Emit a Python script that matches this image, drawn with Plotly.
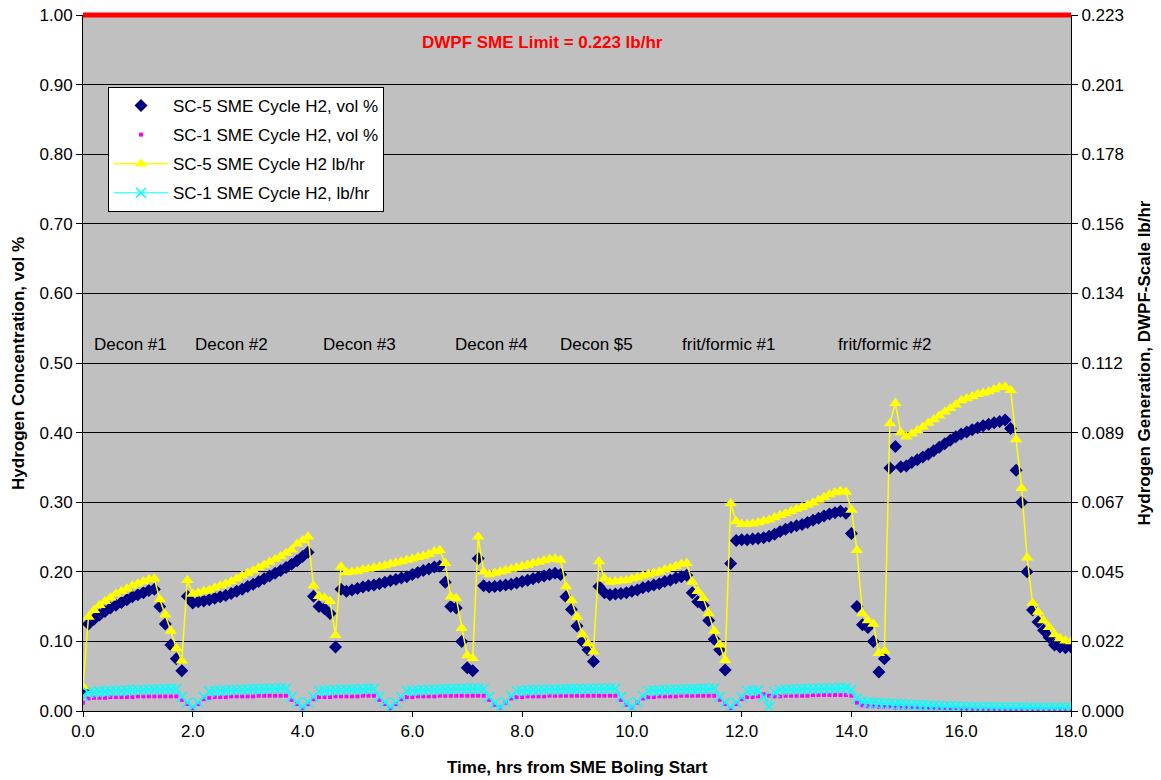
import plotly.graph_objects as go

# ---------------- data ----------------
hours = [
    0.0, 0.1, 0.2, 0.3, 0.4, 0.5, 0.6, 0.7, 0.8, 0.9,
    1.0, 1.1, 1.2, 1.3, 1.4, 1.5, 1.6, 1.7, 1.8, 1.9,
    2.0, 2.1, 2.2, 2.3, 2.4, 2.5, 2.6, 2.7, 2.8, 2.9,
    3.0, 3.1, 3.2, 3.3, 3.4, 3.5, 3.6, 3.7, 3.8, 3.9,
    4.0, 4.1, 4.2, 4.3, 4.4, 4.5, 4.6, 4.7, 4.8, 4.9,
    5.0, 5.1, 5.2, 5.3, 5.4, 5.5, 5.6, 5.7, 5.8, 5.9,
    6.0, 6.1, 6.2, 6.3, 6.4, 6.5, 6.6, 6.7, 6.8, 6.9,
    7.0, 7.1, 7.2, 7.3, 7.4, 7.5, 7.6, 7.7, 7.8, 7.9,
    8.0, 8.1, 8.2, 8.3, 8.4, 8.5, 8.6, 8.7, 8.8, 8.9,
    9.0, 9.1, 9.2, 9.3, 9.4, 9.5, 9.6, 9.7, 9.8, 9.9,
    10.0, 10.1, 10.2, 10.3, 10.4, 10.5, 10.6, 10.7, 10.8, 10.9,
    11.0, 11.1, 11.2, 11.3, 11.4, 11.5, 11.6, 11.7, 11.8, 11.9,
    12.0, 12.1, 12.2, 12.3, 12.4, 12.5, 12.6, 12.7, 12.8, 12.9,
    13.0, 13.1, 13.2, 13.3, 13.4, 13.5, 13.6, 13.7, 13.8, 13.9,
    14.0, 14.1, 14.2, 14.3, 14.4, 14.5, 14.6, 14.7, 14.8, 14.9,
    15.0, 15.1, 15.2, 15.3, 15.4, 15.5, 15.6, 15.7, 15.8, 15.9,
    16.0, 16.1, 16.2, 16.3, 16.4, 16.5, 16.6, 16.7, 16.8, 16.9,
    17.0, 17.1, 17.2, 17.3, 17.4, 17.5, 17.6, 17.7, 17.8, 17.9,
    18.0,
]

# SC-5 SME cycle H2, vol %  (left axis)
sc5_vol = [
    0.030, 0.125, 0.132, 0.138, 0.143, 0.148, 0.152, 0.156, 0.160, 0.164,
    0.167, 0.170, 0.173, 0.175, 0.150, 0.125, 0.095, 0.075, 0.058, 0.165,
    0.155, 0.157, 0.158, 0.160, 0.162, 0.164, 0.166, 0.169, 0.172, 0.175,
    0.179, 0.182, 0.186, 0.190, 0.194, 0.198, 0.202, 0.206, 0.211, 0.216,
    0.222, 0.228, 0.165, 0.150, 0.147, 0.140, 0.092, 0.175, 0.172, 0.174,
    0.176, 0.178, 0.180, 0.181, 0.183, 0.185, 0.187, 0.189, 0.191, 0.193,
    0.196, 0.199, 0.202, 0.204, 0.207, 0.208, 0.185, 0.150, 0.148, 0.100,
    0.062, 0.058, 0.219, 0.180, 0.178, 0.179, 0.180, 0.181, 0.182, 0.184,
    0.186, 0.188, 0.190, 0.192, 0.194, 0.196, 0.198, 0.196, 0.164, 0.146,
    0.122, 0.100, 0.088, 0.071, 0.179, 0.170, 0.167, 0.168, 0.169, 0.170,
    0.172, 0.174, 0.177, 0.179, 0.181, 0.183, 0.186, 0.188, 0.191, 0.193,
    0.195, 0.170, 0.157, 0.152, 0.130, 0.103, 0.088, 0.059, 0.212, 0.245,
    0.246, 0.246, 0.247, 0.248, 0.249, 0.251, 0.254, 0.258, 0.261, 0.264,
    0.266, 0.268, 0.271, 0.274, 0.277, 0.280, 0.283, 0.285, 0.287, 0.284,
    0.255, 0.150, 0.124, 0.120, 0.100, 0.056, 0.075, 0.349, 0.380, 0.351,
    0.352, 0.357, 0.361, 0.365, 0.369, 0.374, 0.379, 0.384, 0.389, 0.394,
    0.398, 0.401, 0.404, 0.407, 0.410, 0.412, 0.414, 0.416, 0.418, 0.406,
    0.346, 0.300, 0.200, 0.145, 0.128, 0.116, 0.106, 0.095, 0.092, 0.091,
    0.092,
]

# SC-1 SME cycle H2, vol %  (left axis)
sc1_vol = [
    0.012, 0.018, 0.019, 0.019, 0.019, 0.020, 0.020, 0.020, 0.020, 0.020,
    0.021, 0.021, 0.021, 0.021, 0.021, 0.021, 0.021, 0.021, 0.016, 0.010,
    0.004, 0.010, 0.017, 0.019, 0.020, 0.020, 0.020, 0.021, 0.021, 0.021,
    0.021, 0.021, 0.022, 0.022, 0.022, 0.022, 0.022, 0.022, 0.016, 0.010,
    0.004, 0.010, 0.017, 0.020, 0.020, 0.020, 0.021, 0.021, 0.021, 0.021,
    0.021, 0.022, 0.022, 0.022, 0.016, 0.010, 0.004, 0.010, 0.017, 0.020,
    0.020, 0.021, 0.021, 0.021, 0.021, 0.022, 0.022, 0.022, 0.022, 0.022,
    0.022, 0.022, 0.022, 0.022, 0.016, 0.009, 0.005, 0.012, 0.018, 0.020,
    0.020, 0.021, 0.021, 0.021, 0.021, 0.022, 0.022, 0.022, 0.022, 0.022,
    0.022, 0.022, 0.022, 0.022, 0.022, 0.022, 0.022, 0.022, 0.016, 0.009,
    0.005, 0.012, 0.018, 0.020, 0.020, 0.021, 0.021, 0.021, 0.021, 0.022,
    0.022, 0.022, 0.022, 0.022, 0.022, 0.022, 0.016, 0.010, 0.004, 0.010,
    0.017, 0.020, 0.020, 0.021, 0.024, 0.022, 0.021, 0.021, 0.022, 0.022,
    0.022, 0.022, 0.022, 0.023, 0.023, 0.023, 0.023, 0.023, 0.023, 0.023,
    0.022, 0.012, 0.008, 0.007, 0.007, 0.006, 0.006, 0.006, 0.005, 0.005,
    0.005, 0.005, 0.005, 0.004, 0.004, 0.004, 0.004, 0.004, 0.004, 0.004,
    0.003, 0.003, 0.003, 0.003, 0.003, 0.003, 0.003, 0.003, 0.003, 0.003,
    0.003, 0.003, 0.003, 0.003, 0.003, 0.003, 0.003, 0.003, 0.003, 0.003,
    0.003,
]

# SC-5 SME cycle H2, lb/hr  (right axis)
sc5_lbhr = [
    0.0078, 0.0301, 0.0323, 0.0339, 0.0352, 0.0363, 0.0375, 0.0384, 0.0392, 0.0401,
    0.0408, 0.0415, 0.0421, 0.0424, 0.0357, 0.0308, 0.0256, 0.0201, 0.0161, 0.0419,
    0.0375, 0.0379, 0.0384, 0.0388, 0.0395, 0.0401, 0.0408, 0.0415, 0.0424, 0.0433,
    0.0442, 0.0450, 0.0459, 0.0468, 0.0477, 0.0486, 0.0495, 0.0506, 0.0517, 0.0535,
    0.0546, 0.0558, 0.0401, 0.0368, 0.0363, 0.0352, 0.0243, 0.0462, 0.0444, 0.0446,
    0.0448, 0.0453, 0.0455, 0.0459, 0.0462, 0.0466, 0.0471, 0.0475, 0.0479, 0.0484,
    0.0488, 0.0493, 0.0497, 0.0502, 0.0511, 0.0515, 0.0473, 0.0366, 0.0361, 0.0265,
    0.0178, 0.0169, 0.0558, 0.0446, 0.0437, 0.0442, 0.0446, 0.0450, 0.0455, 0.0459,
    0.0464, 0.0468, 0.0473, 0.0477, 0.0482, 0.0486, 0.0488, 0.0484, 0.0399, 0.0355,
    0.0301, 0.0245, 0.0216, 0.0190, 0.0479, 0.0424, 0.0413, 0.0415, 0.0417, 0.0419,
    0.0424, 0.0428, 0.0433, 0.0437, 0.0442, 0.0446, 0.0453, 0.0457, 0.0464, 0.0471,
    0.0473, 0.0413, 0.0384, 0.0361, 0.0312, 0.0256, 0.0212, 0.0163, 0.0665, 0.0607,
    0.0598, 0.0598, 0.0600, 0.0604, 0.0609, 0.0613, 0.0620, 0.0627, 0.0633, 0.0640,
    0.0647, 0.0653, 0.0660, 0.0667, 0.0676, 0.0685, 0.0694, 0.0700, 0.0705, 0.0702,
    0.0644, 0.0515, 0.0312, 0.0290, 0.0279, 0.0185, 0.0192, 0.0921, 0.0986, 0.0892,
    0.0879, 0.0888, 0.0899, 0.0910, 0.0923, 0.0934, 0.0946, 0.0959, 0.0970, 0.0981,
    0.0995, 0.1001, 0.1008, 0.1015, 0.1019, 0.1024, 0.1030, 0.1037, 0.1039, 0.1028,
    0.0870, 0.0714, 0.0491, 0.0346, 0.0317, 0.0290, 0.0268, 0.0245, 0.0232, 0.0225,
    0.0223,
]

# SC-1 SME cycle H2, lb/hr  (right axis)
sc1_lbhr = [
    0.0049, 0.0058, 0.0060, 0.0062, 0.0062, 0.0064, 0.0065, 0.0065, 0.0066, 0.0067,
    0.0067, 0.0068, 0.0068, 0.0069, 0.0069, 0.0070, 0.0070, 0.0071, 0.0045, 0.0027,
    0.0013, 0.0027, 0.0045, 0.0062, 0.0064, 0.0065, 0.0066, 0.0067, 0.0068, 0.0068,
    0.0069, 0.0070, 0.0070, 0.0071, 0.0072, 0.0072, 0.0073, 0.0073, 0.0045, 0.0027,
    0.0013, 0.0027, 0.0045, 0.0064, 0.0065, 0.0066, 0.0067, 0.0068, 0.0068, 0.0069,
    0.0069, 0.0070, 0.0071, 0.0071, 0.0045, 0.0027, 0.0013, 0.0027, 0.0045, 0.0064,
    0.0065, 0.0066, 0.0067, 0.0068, 0.0068, 0.0069, 0.0070, 0.0070, 0.0071, 0.0071,
    0.0072, 0.0072, 0.0072, 0.0071, 0.0045, 0.0025, 0.0013, 0.0029, 0.0048, 0.0064,
    0.0065, 0.0066, 0.0067, 0.0067, 0.0068, 0.0068, 0.0069, 0.0069, 0.0070, 0.0070,
    0.0070, 0.0071, 0.0071, 0.0071, 0.0071, 0.0072, 0.0072, 0.0072, 0.0045, 0.0025,
    0.0013, 0.0029, 0.0048, 0.0064, 0.0065, 0.0066, 0.0067, 0.0068, 0.0068, 0.0069,
    0.0069, 0.0070, 0.0070, 0.0071, 0.0071, 0.0072, 0.0045, 0.0027, 0.0013, 0.0027,
    0.0045, 0.0064, 0.0065, 0.0066, 0.0045, 0.0013, 0.0060, 0.0067, 0.0068, 0.0069,
    0.0069, 0.0070, 0.0071, 0.0071, 0.0072, 0.0072, 0.0073, 0.0073, 0.0074, 0.0074,
    0.0068, 0.0040, 0.0030, 0.0028, 0.0026, 0.0025, 0.0024, 0.0023, 0.0022, 0.0022,
    0.0021, 0.0020, 0.0019, 0.0018, 0.0018, 0.0017, 0.0016, 0.0015, 0.0015, 0.0014,
    0.0013, 0.0013, 0.0013, 0.0012, 0.0012, 0.0012, 0.0012, 0.0011, 0.0011, 0.0011,
    0.0011, 0.0011, 0.0010, 0.0010, 0.0010, 0.0010, 0.0010, 0.0010, 0.0010, 0.0010,
    0.0010,
]

series_names = [
    "SC-5 SME Cycle H2, vol %",
    "SC-1 SME Cycle H2, vol %",
    "SC-5 SME Cycle H2 lb/hr",
    "SC-1 SME Cycle H2, lb/hr",
]

vol_ticks = [0.0, 0.1, 0.2, 0.3, 0.4, 0.5, 0.6, 0.7, 0.8, 0.9, 1.0]
lbhr_ticks = [0.0, 0.0223, 0.0446, 0.0669, 0.0892, 0.1115, 0.1338, 0.1561, 0.1784, 0.2007, 0.223]
lbhr_tick_labels = ["0.000", "0.022", "0.045", "0.067", "0.089", "0.112",
                    "0.134", "0.156", "0.178", "0.201", "0.223"]
time_ticks = [0, 2, 4, 6, 8, 10, 12, 14, 16, 18]

limit_text = "DWPF SME Limit = 0.223 lb/hr"
phase_labels = ["Decon #1", "Decon #2", "Decon #3", "Decon #4", "Decon $5",
                "frit/formic #1", "frit/formic #2"]
phase_label_hours = [0.87, 2.70, 5.03, 7.45, 9.35, 11.77, 14.61]

x_title = "Time, hrs from SME Boling Start"
y_title = "Hydrogen Concentration, vol %"
y2_title = "Hydrogen Generation, DWPF-Scale lb/hr"

# ---------------- figure ----------------
FONT = "Liberation Sans, Arial, sans-serif"
fig = go.Figure()

fig.add_trace(go.Scatter(
    x=hours, y=sc5_vol, name=series_names[0], mode="markers",
    marker=dict(symbol="diamond", size=10, color="#000080"),
    legendgroup="a", yaxis="y"))
fig.add_trace(go.Scatter(
    x=hours, y=sc1_vol, name=series_names[1], mode="markers",
    marker=dict(symbol="square", size=4, color="#FF00FF"),
    legendgroup="b", yaxis="y"))
fig.add_trace(go.Scatter(
    x=hours, y=sc5_lbhr, name=series_names[2], mode="lines+markers",
    line=dict(color="#FFFF00", width=1.5),
    marker=dict(symbol="triangle-up", size=11, color="#FFFF00"),
    legendgroup="c", yaxis="y2"))
fig.add_trace(go.Scatter(
    x=hours, y=sc1_lbhr, name=series_names[3], mode="lines+markers",
    line=dict(color="#00FFFF", width=1),
    marker=dict(symbol="x-thin", size=10, color="#00FFFF",
                line=dict(color="#00FFFF", width=1.5)),
    legendgroup="d", yaxis="y2"))

annotations = [
    dict(x=8.38, y=0.96, xref="x", yref="y", text="<b>" + limit_text + "</b>",
         showarrow=False, font=dict(family=FONT, size=17, color="#FF0000")),
    dict(x=0.5, y=-0.0805, xref="paper", yref="paper", yanchor="middle",
         text="<b>" + x_title + "</b>", showarrow=False,
         font=dict(family=FONT, size=17, color="black")),
    dict(x=-0.0658, y=0.5, xref="paper", yref="paper", xanchor="center",
         yanchor="middle", textangle=-90,
         text="<b>" + y_title + "</b>", showarrow=False,
         font=dict(family=FONT, size=17, color="black")),
]
for lbl, hx in zip(phase_labels, phase_label_hours):
    annotations.append(dict(x=hx, y=0.527, xref="x", yref="y", text=lbl,
                            showarrow=False,
                            font=dict(family=FONT, size=17, color="black")))

fig.update_layout(
    width=1161, height=780,
    margin=dict(l=83, r=90, t=15, b=69, autoexpand=False),
    paper_bgcolor="white", plot_bgcolor="#C0C0C0",
    font=dict(family=FONT, size=17, color="black"),
    showlegend=True,
    legend=dict(x=0.0253, y=0.8966, xanchor="left", yanchor="top",
                bgcolor="white", bordercolor="black", borderwidth=1,
                font=dict(family=FONT, size=17, color="black"),
                tracegroupgap=4, itemwidth=54),
    xaxis=dict(range=[0, 18], tickvals=time_ticks, tickformat=".1f",
               ticks="outside", ticklen=5, tickcolor="black",
               showline=True, linecolor="black", linewidth=1,
               showgrid=False, zeroline=False, automargin=False,
               ticklabeloverflow="allow"),
    yaxis=dict(range=[0, 1.0], tickvals=vol_ticks, tickformat=".2f",
               ticks="outside", ticklen=6, tickcolor="black",
               showline=True, linecolor="black", linewidth=1,
               showgrid=True, gridcolor="black", gridwidth=1,
               zeroline=False, automargin=False, ticklabeloverflow="allow"),
    yaxis2=dict(range=[0, 0.223], overlaying="y", side="right",
                tickvals=lbhr_ticks, ticktext=lbhr_tick_labels,
                ticks="outside", ticklen=6, tickcolor="black",
                showline=True, linecolor="black", linewidth=1,
                showgrid=False, zeroline=False, automargin=False,
                ticklabeloverflow="allow",
                title=dict(text="<b>" + y2_title + "</b>",
                           font=dict(family=FONT, size=17))),
    annotations=annotations,
    shapes=[dict(type="line", xref="paper", yref="paper", x0=0, x1=1,
                 y0=1, y1=1, line=dict(color="#FF0000", width=5),
                 layer="above")],
)

# remove the browser's default 8px body margin so the figure fills the window
fig.write_html("out.html",
               config={"displayModeBar": False},
               post_script="document.body.style.margin='0';"
                           "document.body.style.overflow='hidden';")
